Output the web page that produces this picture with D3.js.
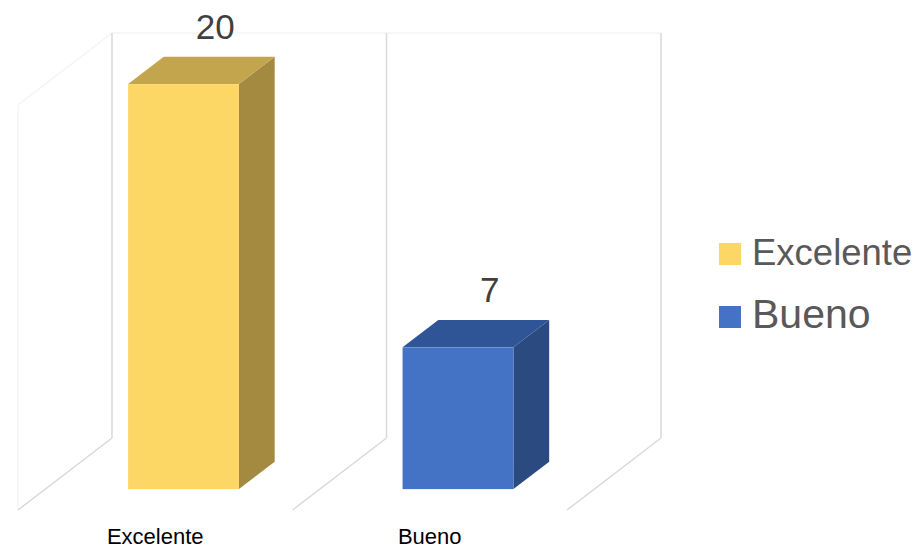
<!DOCTYPE html>
<html>
<head>
<meta charset="utf-8">
<script src="https://cdn.jsdelivr.net/npm/d3@7"></script>
<style>
  html, body { margin: 0; padding: 0; background: #fff; }
  svg { display: block; font-family: "Liberation Sans", Arial, sans-serif; }
</style>
</head>
<body>
<svg id="chart" width="917" height="549"></svg>
<script>
const categories = ["Excelente", "Bueno"];
const values = [20, 7];
const legendLabels = ["Excelente", "Bueno"];
const yDomain = [0, 20];

const colors = {
  Excelente: { front: "#FDD766", top: "#C2A54D", side: "#A38A40" },
  Bueno:     { front: "#4472C4", top: "#2F5597", side: "#2A4A80" }
};

const svg = d3.select("#chart");

// back-plane scales
const x = d3.scaleBand().domain(categories).range([112, 661]).padding(0);
const y = d3.scaleLinear().domain(yDomain).range([438, 33]);

// depth projection (full depth = front floor edge)
const DX = -94, DY = 72;
const proj = (px, py, d) => [px + d * DX, py + d * DY];

// walls / gridlines
const g = svg.append("g");
const faint = "#f4f4f4", grid = "#d9d9d9";
// back wall top
g.append("line").attr("x1", x.range()[0]).attr("x2", x.range()[1])
  .attr("y1", y(yDomain[1])).attr("y2", y(yDomain[1]))
  .attr("stroke", "#f5f5f5").attr("stroke-width", 1.5);
// side wall
{
  const [ax, ay] = proj(x.range()[0], y(yDomain[1]), 1);
  const [bx, by] = proj(x.range()[0], y(0), 1);
  g.append("line").attr("x1", x.range()[0]).attr("y1", y(yDomain[1]))
    .attr("x2", ax).attr("y2", ay).attr("stroke", faint).attr("stroke-width", 1.5);
  g.append("line").attr("x1", ax).attr("y1", ay).attr("x2", bx).attr("y2", by)
    .attr("stroke", faint).attr("stroke-width", 1.5);
}
// vertical division lines and floor diagonals
const boundaries = categories.map(c => x(c)).concat([x.range()[1]]);
boundaries.forEach(bx => {
  g.append("line").attr("x1", bx).attr("x2", bx)
    .attr("y1", y(yDomain[1])).attr("y2", y(0))
    .attr("stroke", grid).attr("stroke-width", 1.5);
  const [fx, fy] = proj(bx, y(0), 1);
  g.append("line").attr("x1", bx).attr("y1", y(0))
    .attr("x2", fx).attr("y2", fy)
    .attr("stroke", grid).attr("stroke-width", 1.5);
});

// bars
const barFrac = 0.404;
const dFront = 0.71, dBack = 0.33;
const bars = svg.append("g");
categories.forEach((c, i) => {
  const v = values[i];
  const bw = x.bandwidth() * barFrac;
  const x0 = x(c) + x.bandwidth() / 2 - bw / 2 + 1;
  const x1 = x0 + bw;
  const yt = y(v), yb = y(0);
  const F = (px, py) => proj(px, py, dFront);
  const B = (px, py) => proj(px, py, dBack);
  const col = colors[c];
  const poly = pts => pts.map(p => p.join(",")).join(" ");
  // side face
  bars.append("polygon")
    .attr("points", poly([F(x1, yt), B(x1, yt), B(x1, yb), F(x1, yb)]))
    .attr("fill", col.side);
  // top face
  bars.append("polygon")
    .attr("points", poly([F(x0, yt), F(x1, yt), B(x1, yt), B(x0, yt)]))
    .attr("fill", col.top);
  // front face
  const [fx0, fyt] = F(x0, yt), [fx1, fyb] = F(x1, yb);
  bars.append("rect")
    .attr("x", fx0).attr("y", fyt)
    .attr("width", fx1 - fx0).attr("height", fyb - fyt)
    .attr("fill", col.front);
  // value label
  const [lx, ly] = B(x(c) + x.bandwidth() / 2, yt);
  svg.append("text")
    .attr("x", lx - 3).attr("y", ly - 18)
    .attr("text-anchor", "middle")
    .attr("font-size", 35).attr("fill", "#404040")
    .text(v);
  // category label
  const [cx, cy] = proj(x(c) + x.bandwidth() / 2, y(0), 1);
  svg.append("text")
    .attr("x", cx).attr("y", cy + 34)
    .attr("text-anchor", "middle")
    .attr("font-size", 22).attr("fill", "#000")
    .text(c);
});

// legend
const legendSizes = [36.5, 41];
const legendBase = [265, 328];
legendLabels.forEach((l, i) => {
  const lg = svg.append("g");
  lg.append("rect")
    .attr("x", 719).attr("y", legendBase[i] - 22)
    .attr("width", 22).attr("height", 22)
    .attr("fill", colors[l].front);
  lg.append("text")
    .attr("x", 752).attr("y", legendBase[i])
    .attr("font-size", legendSizes[i]).attr("fill", "#595959")
    .text(l);
});
</script>
</body>
</html>
